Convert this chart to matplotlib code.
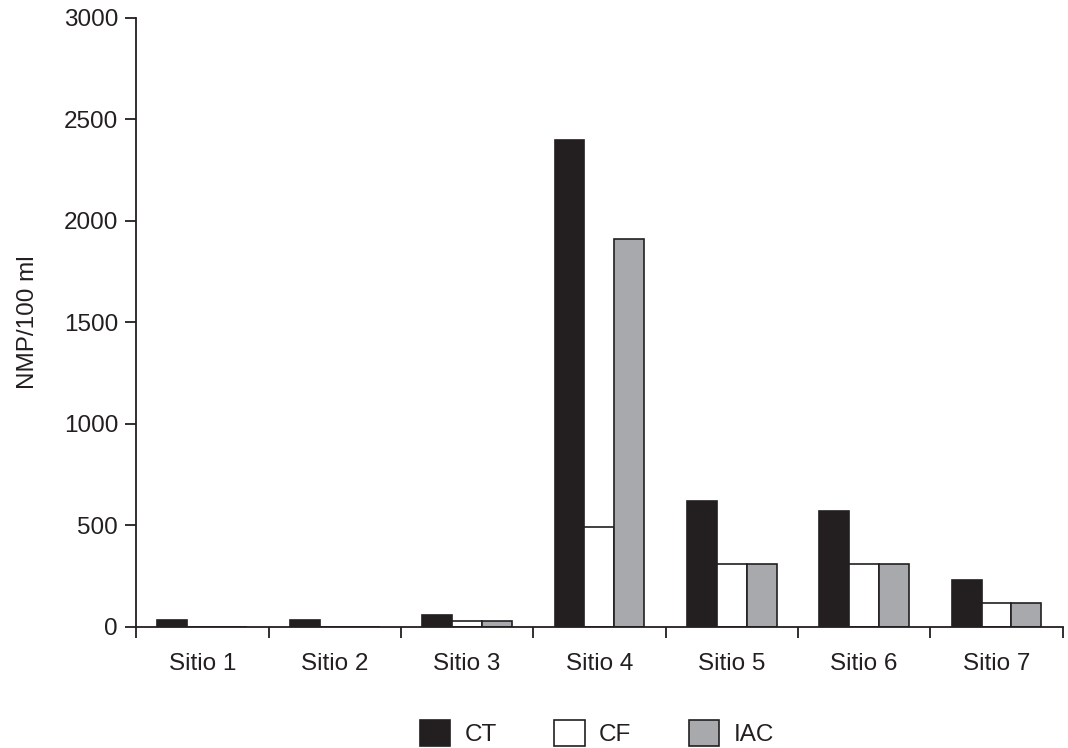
import matplotlib.pyplot as plt
import numpy as np
from matplotlib.patches import Patch

# Valori (NMP/100 ml)
sitios = ["Sitio 1", "Sitio 2", "Sitio 3", "Sitio 4", "Sitio 5", "Sitio 6", "Sitio 7"]
ct = [35, 35, 60, 2400, 620, 570, 230]
cf = [0, 0, 30, 490, 310, 310, 115]
iac = [0, 0, 30, 1910, 310, 310, 115]

series_labels = ["CT", "CF", "IAC"]
series_colors = ["#231f20", "#ffffff", "#a7a9ac"]
edge = "#231f20"


def main():
    plt.rcParams["font.family"] = ["Liberation Sans", "DejaVu Sans"]
    fig = plt.figure(figsize=(10.68, 7.48), dpi=100)
    ax = fig.add_axes([0.1275, 0.162, 0.8675, 0.814])

    x = np.arange(len(sitios))
    width = 0.226
    for i, (vals, col) in enumerate(zip([ct, cf, iac], series_colors)):
        ax.bar(x + (i - 1) * width, vals, width, color=col, edgecolor=edge,
               linewidth=1.2, label=series_labels[i])

    ax.set_xlim(-0.5, len(sitios) - 0.5)
    ax.set_ylim(0, 3000)
    ax.set_yticks(np.arange(0, 3001, 500))
    ax.set_xticks(x)
    ax.set_xticklabels(sitios)
    ax.set_xticks(np.arange(-0.5, len(sitios), 1), minor=True)
    ax.tick_params(axis="x", which="major", length=0, pad=19, labelsize=17.5, colors="#231f20")
    ax.tick_params(axis="x", which="minor", length=8, width=1.3, color="#231f20")
    ax.tick_params(axis="y", length=8, width=1.3, labelsize=17.5, colors="#231f20", pad=5)
    ax.set_ylabel("NMP/100 ml", fontsize=17.5, color="#231f20", labelpad=18)

    for side in ["top", "right"]:
        ax.spines[side].set_visible(False)
    for side in ["left", "bottom"]:
        ax.spines[side].set_linewidth(1.3)
        ax.spines[side].set_color("#231f20")

    handles = [Patch(facecolor=c, edgecolor=edge, linewidth=1.2) for c in series_colors]
    fig.legend(handles, series_labels, loc="center", bbox_to_anchor=(0.559, 0.02),
               ncol=3, frameon=False, fontsize=17.5, handlelength=1.25, handleheight=1.25,
               columnspacing=2.35, handletextpad=0.6, labelcolor="#231f20")

    fig.savefig("out.png", dpi=100)


if __name__ == "__main__":
    main()
